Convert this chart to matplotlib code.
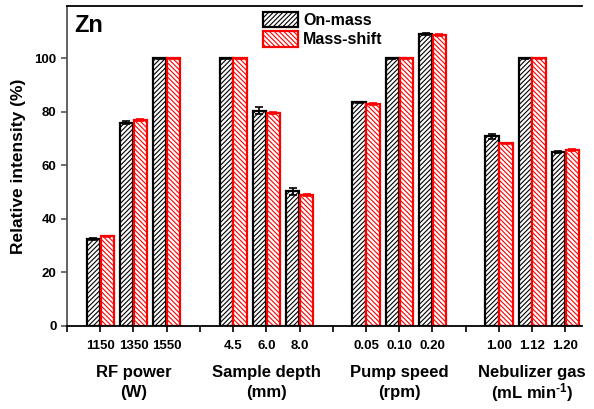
import numpy as np
import matplotlib
matplotlib.use('Agg')
import matplotlib.pyplot as plt
from matplotlib.patches import Patch

plt.rcParams['font.family'] = ['Liberation Sans', 'DejaVu Sans']
plt.rcParams['font.weight'] = 'bold'
plt.rcParams['mathtext.fontset'] = 'custom'
plt.rcParams['mathtext.bf'] = 'Liberation Sans:bold'
plt.rcParams['mathtext.rm'] = 'Liberation Sans:bold'
plt.rcParams['mathtext.default'] = 'bf'
plt.rcParams['hatch.linewidth'] = 0.8

# data
tick_labels = ['1150', '1350', '1550', '4.5', '6.0', '8.0',
               '0.05', '0.10', '0.20', '1.00', '1.12', '1.20']
on_mass = [32.5, 76, 100, 100, 80.5, 50.3, 83.5, 100, 109, 70.8, 100, 65]
on_err = [0.3, 0.5, 0.2, 0.2, 1.2, 1.2, 0.3, 0.2, 0.3, 1.0, 0.2, 0.3]
mass_shift = [33.5, 77, 100, 100, 79.5, 49, 83, 100, 108.7, 68.2, 100, 65.7]
shift_err = [0.3, 0.4, 0.2, 0.2, 0.3, 0.3, 0.3, 0.2, 0.3, 0.3, 0.2, 0.3]
group_names = ['RF power', 'Sample depth', 'Pump speed', 'Nebulizer gas']
group_units = ['(W)', '(mm)', '(rpm)', '(mL min$^{\\text{-1}}$)']

x = np.array([1, 2, 3, 5, 6, 7, 9, 10, 11, 13, 14, 15])
group_x = [2, 6, 10, 14]
sep_x = [0, 4, 8, 12]
w = 0.4
hatch_on = '///////'
hatch_shift = '\\\\\\\\\\\\\\'

fig = plt.figure(figsize=(5.94, 4.09), dpi=100)
ax = fig.add_axes([0.1128, 0.203, 0.867, 0.782])

ax.bar(x - w / 2 - 0.01, on_mass, w, yerr=on_err, color='white', edgecolor='black',
       linewidth=1.6, hatch=hatch_on,
       error_kw=dict(ecolor='black', elinewidth=1.2, capsize=3, capthick=1.2))
ax.bar(x + w / 2 + 0.01, mass_shift, w, yerr=shift_err, color='white', edgecolor='red',
       linewidth=1.6, hatch=hatch_shift,
       error_kw=dict(ecolor='red', elinewidth=1.2, capsize=3, capthick=1.2))

ax.set_xlim(0, 15.5)
ax.set_ylim(0, 119.5)
ax.set_yticks([0, 20, 40, 60, 80, 100])
ax.set_xticks(x)
ax.set_xticklabels(tick_labels, fontsize=9.5, fontweight='bold')
ax.set_xticks(sep_x, minor=True)
ax.tick_params(axis='x', which='both', direction='out', length=4, width=1.2, pad=6)
ax.tick_params(axis='y', direction='out', length=4, width=1.2, color='#555555', labelsize=9.5)
for lab in ax.get_yticklabels():
    lab.set_fontweight('bold')

ax.spines['right'].set_visible(False)
ax.spines['left'].set_color('#555555')
for s in ['left', 'bottom', 'top']:
    ax.spines[s].set_linewidth(1.3)

ax.set_ylabel('Relative intensity (%)', fontsize=12.5, fontweight='bold', labelpad=6)

trans = ax.get_xaxis_transform()
for gx, name, unit in zip(group_x, group_names, group_units):
    ax.text(gx, -0.147, name, transform=trans, ha='center', va='center',
            fontsize=12, fontweight='bold')
    ax.text(gx, -0.209, unit, transform=trans, ha='center', va='center',
            fontsize=12, fontweight='bold')

ax.text(0.015, 0.975, 'Zn', transform=ax.transAxes, ha='left', va='top',
        fontsize=17, fontweight='bold')

handles = [Patch(facecolor='white', edgecolor='black', hatch=hatch_on, linewidth=1.6),
           Patch(facecolor='white', edgecolor='red', hatch=hatch_shift, linewidth=1.6)]
ax.legend(handles, ['On-mass', 'Mass-shift'], loc='upper left', bbox_to_anchor=(0.361, 1.012),
          frameon=False, prop={'weight': 'bold', 'size': 11.5}, handlelength=2.2,
          handleheight=1.1, handletextpad=0.35, labelspacing=0.2, borderaxespad=0.2)

fig.savefig('out.png', dpi=100)
